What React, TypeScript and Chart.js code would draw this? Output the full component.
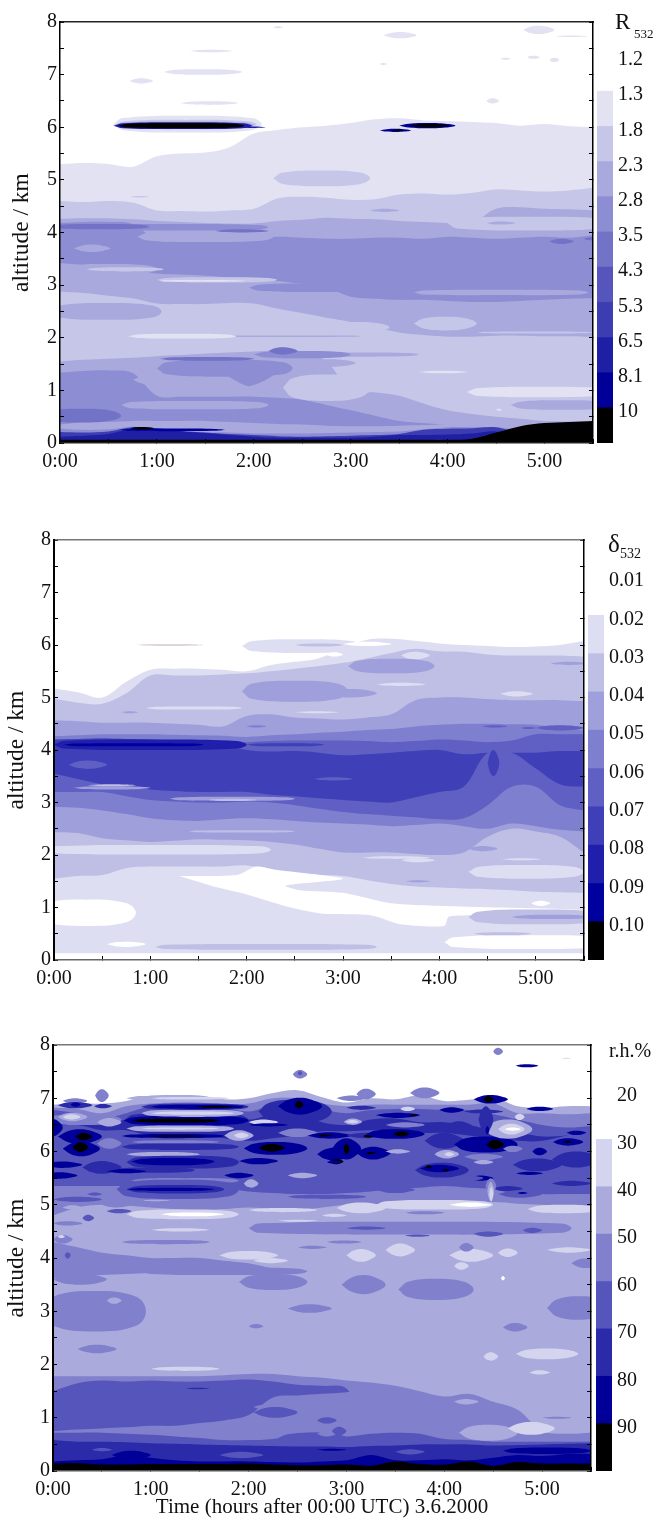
import React, { useEffect, useRef } from "react";
import { Chart, registerables } from "chart.js";
Chart.register(...registerables);

const SERIF = "'Liberation Serif','Times New Roman',serif";
const timeLabels = ["0:00", "1:00", "2:00", "3:00", "4:00", "5:00"];
const altitudeTitle = "altitude / km";
const timeTitle = "Time (hours after 00:00 UTC) 3.6.2000";

// ---------- colour ramps (index 0 = white) ----------
const rColors = ["#ffffff", "#e2e2f3", "#c6c6e9", "#a9a9dd", "#8d8dd3", "#7272c7", "#5555bb", "#3d3db2", "#1f1fa6", "#000099", "#000000"];
const dColors = ["#ffffff", "#dedef3", "#bfbfe6", "#9f9fdc", "#7f7fd0", "#5f5fc4", "#3f3fb8", "#1f1fab", "#00009f", "#000000"];
const hColors = ["#ffffff", "#d4d4ee", "#aaaadd", "#8080cc", "#5555bb", "#2b2baa", "#000099", "#000000"];

const rLegend = ["1.2", "1.3", "1.8", "2.3", "2.8", "3.5", "4.3", "5.3", "6.5", "8.1", "10"];
const dLegend = ["0.01", "0.02", "0.03", "0.04", "0.05", "0.06", "0.07", "0.08", "0.09", "0.10"];
const hLegend = ["20", "30", "40", "50", "60", "70", "80", "90"];

// ---------- panel 1: R532, contour tops (km) evenly spaced over 0..5.5 h, painted from top to bottom ----------
const r1 = [5.3, 5.32, 5.3, 5.25, 5.45, 5.5, 5.52, 5.62, 5.88, 5.95, 6.0, 6.03, 6.08, 6.15, 6.17, 6.13, 6.12, 6.1, 6.08, 6.03, 6.06, 6.02, 6.0];
const r2 = [4.6, 4.58, 4.6, 4.57, 4.42, 4.41, 4.4, 4.42, 4.45, 4.65, 4.68, 4.66, 4.62, 4.63, 4.72, 4.74, 4.72, 4.75, 4.82, 4.8, 4.78, 4.8, 4.85];
const r3 = [4.26, 4.27, 4.27, 4.25, 4.22, 4.2, 4.18, 4.17, 4.17, 4.22, 4.24, 4.28, 4.26, 4.25, 4.22, 4.2, 4.18, 4.18, 4.45, 4.48, 4.45, 4.44, 4.42];
const r4 = [4.18, 4.2, 4.2, 4.16, 3.85, 3.84, 3.85, 3.85, 3.88, 3.92, 3.9, 3.88, 3.88, 3.9, 3.9, 3.88, 3.92, 3.9, 3.88, 3.9, 3.92, 3.9, 3.95];
const r5 = [3.42, 3.38, 3.35, 3.28, 3.22, 3.2, 3.18, 3.15, 3.12, 3.08, 3.02, 2.95, 2.78, 2.74, 2.72, 2.72, 2.7, 2.68, 2.68, 2.7, 2.72, 2.74, 2.75];
const r6 = [2.88, 2.85, 2.8, 2.75, 2.65, 2.64, 2.64, 2.66, 2.65, 2.55, 2.47, 2.38, 2.3, 2.2, 2.1, 2.05, 2.02, 2.02, 2.04, 2.04, 2.03, 2.03, 2.02];
const r7 = [1.55, 1.58, 1.6, 1.62, 1.65, 1.67, 1.7, 1.72, 1.74, 1.75, 1.72, 1.55, 1.0, 0.96, 0.9, 0.75, 0.62, 0.55, 0.5, 0.46, 0.42, 0.41, 0.4];
const r8 = [1.34, 1.37, 1.38, 1.33, 0.9, 0.88, 0.88, 0.88, 0.88, 0.86, 0.82, 0.72, 0.62, 0.52, 0.42, 0.38, 0.34, 0.3, 0.27, 0.24, 0.22, 0.2, 0.2];
const r9 = [0.35, 0.4, 0.4, 0.42, 0.42, 0.42, 0.42, 0.4, 0.38, 0.36, 0.35, 0.33, 0.32, 0.32, 0.33, 0.34, 0.35, 0.32, 0.25, 0.24, 0.2, 0.2, 0.2];
const r10 = [0.27, 0.25, 0.26, 0.31, 0.27, 0.23, 0.21, 0.2, 0.18, 0.18, 0.18, 0.19, 0.2, 0.21, 0.22, 0.26, 0.3, 0.3, 0.3, 0.25, 0.25, 0.22, 0.22];
const r11 = [0.21, 0.2, 0.22, 0.3, 0.28, 0.23, 0.2, 0.17, 0.15, 0.13, 0.12, 0.13, 0.14, 0.15, 0.17, 0.25, 0.27, 0.28, 0.3, 0.18, 0.15, 0.15, 0.15];
const r12 = [0.12, 0.14, 0.17, 0.27, 0.26, 0.22, 0.19, 0.15, 0.12, 0.1, 0.1, 0.1, 0.1, 0.12, 0.15, 0.15, 0.16, 0.18, 0.22, 0.12, 0.1, 0.1, 0.1];
const r13 = [0.06, 0.06, 0.06, 0.06, 0.06, 0.06, 0.06, 0.06, 0.06, 0.06, 0.06, 0.06, 0.06, 0.06, 0.06, 0.06, 0.06, 0.08, 0.2, 0.32, 0.38, 0.4, 0.42];
const rLayers = [[1, r1], [2, r2], [3, r3], [4, r4], [3, r5], [2, r6], [3, r7], [4, r8], [3, r9], [4, r10], [7, r11], [8, r12], [10, r13]];
// level, start h, end h, centre km, half thickness km
const rBlobs = [
  [1, 0.55, 2.08, 6.06, 0.16], [2, 0.57, 2.03, 6.05, 0.09], [3, 0.57, 2.0, 6.04, 0.07], [8, 0.55, 1.98, 6.03, 0.065], [10, 0.6, 1.9, 6.03, 0.05], [8, 1.85, 2.12, 6.0, 0.016],
  [9, 3.5, 4.08, 6.03, 0.05], [10, 3.6, 4.02, 6.03, 0.035], [9, 3.3, 3.62, 5.94, 0.03], [10, 3.42, 3.55, 5.94, 0.015],
  [1, 0.72, 0.96, 6.88, 0.05], [1, 1.07, 1.88, 7.05, 0.05], [1, 1.24, 1.84, 6.46, 0.035], [1, 1.34, 1.77, 7.45, 0.025], [1, 2.2, 2.3, 7.9, 0.02],
  [1, 3.34, 3.68, 7.75, 0.06], [1, 4.78, 5.1, 7.85, 0.08], [1, 5.1, 5.45, 7.73, 0.015], [1, 4.4, 4.53, 6.5, 0.05], [1, 4.82, 4.95, 7.33, 0.03], [1, 5.05, 5.15, 7.28, 0.04], [1, 4.55, 4.65, 7.3, 0.02], [1, 3.3, 3.37, 7.2, 0.02],
  [2, 2.2, 3.2, 5.03, 0.15], [2, 0.72, 0.92, 4.68, 0.015], [3, 3.2, 3.5, 4.42, 0.03], [2, 4.0, 5.7, 4.17, 0.13], [3, 4.4, 4.7, 4.18, 0.03],
  [3, 0.0, 1.0, 3.3, 0.1], [3, 0.14, 0.52, 3.7, 0.07], [3, 0.8, 2.2, 3.92, 0.1], [4, 0.0, 2.15, 4.1, 0.06], [5, -0.1, 0.92, 4.11, 0.05], [5, 1.6, 2.15, 4.03, 0.03], [5, 5.05, 5.3, 3.83, 0.05], [5, 5.4, 5.6, 3.88, 0.03],
  [2, 0.27, 1.07, 3.3, 0.04], [2, 1.0, 2.24, 3.1, 0.05], [1, 1.0, 1.9, 3.08, 0.015],
  [4, 1.95, 3.25, 2.95, 0.08], [3, 3.65, 5.45, 2.86, 0.05], [3, -0.1, 1.05, 2.5, 0.16], [3, 1.5, 3.1, 2.03, 0.015],
  [2, 2.75, 3.4, 2.2, 0.1], [2, 3.65, 4.3, 2.27, 0.13], [2, 4.3, 5.5, 2.1, 0.02],
  [1, 0.7, 1.82, 2.03, 0.045], [3, 2.5, 3.7, 1.68, 0.04], [3, 2.5, 3.05, 1.52, 0.07], [1, 3.7, 4.2, 1.35, 0.025], [1, 4.2, 5.7, 0.97, 0.1], [1, 4.5, 4.56, 0.63, 0.02], [3, 4.65, 5.7, 0.72, 0.09],
  [4, 1.0, 2.4, 1.42, 0.16], [5, 1.03, 2.0, 1.6, 0.035], [4, 2.0, 3.0, 1.68, 0.07], [5, 2.15, 2.45, 1.75, 0.07],
  [2, 2.3, 3.2, 1.05, 0.25], [3, 0.63, 2.15, 0.72, 0.08], [3, 0.75, 1.3, 1.2, 0.1], [5, -0.2, 0.63, 0.52, 0.13], [9, 0.6, 1.7, 0.25, 0.025], [10, 0.72, 0.97, 0.28, 0.025],
];
const rShapes = [[4, [[1.7, 1.3], [2.2, 1.3], [1.95, 1.08]]]];

// ---------- panel 2: delta532 ----------
const d1 = [5.17, 5.1, 5.0, 5.3, 5.53, 5.55, 5.55, 5.53, 5.5, 5.62, 5.68, 5.75, 5.95, 6.1, 6.12, 6.08, 6.03, 6.0, 5.98, 5.96, 5.97, 6.0, 6.08];
const d2 = [4.98, 4.9, 4.88, 5.08, 5.42, 5.42, 5.42, 5.44, 5.46, 5.5, 5.55, 5.6, 5.66, 5.75, 5.85, 5.93, 5.88, 5.87, 5.82, 5.8, 5.8, 5.8, 5.78];
const d3 = [4.56, 4.55, 4.52, 4.52, 4.52, 4.5, 4.48, 4.45, 4.65, 4.68, 4.62, 4.6, 4.58, 4.62, 4.68, 4.95, 5.0, 5.0, 4.97, 4.95, 4.95, 4.95, 4.93];
const d4 = [4.26, 4.28, 4.3, 4.3, 4.3, 4.29, 4.28, 4.27, 4.25, 4.28, 4.3, 4.33, 4.35, 4.38, 4.4, 4.45, 4.48, 4.5, 4.5, 4.49, 4.48, 4.42, 4.38];
const d5 = [4.2, 4.21, 4.22, 4.2, 4.18, 4.17, 4.17, 4.16, 4.15, 4.17, 4.18, 4.18, 4.18, 4.17, 4.15, 4.17, 4.2, 4.18, 4.15, 4.18, 4.3, 4.3, 4.3];
const d6 = [4.2, 4.21, 4.22, 4.21, 4.2, 4.18, 4.15, 4.1, 4.0, 3.97, 3.98, 3.95, 3.9, 3.92, 3.95, 3.98, 4.0, 3.92, 3.95, 3.95, 3.95, 3.98, 3.98];
const d7 = [3.55, 3.45, 3.35, 3.3, 3.25, 3.22, 3.2, 3.2, 3.2, 3.15, 3.12, 3.08, 3.05, 3.02, 3.0, 3.1, 3.2, 3.3, 3.95, 3.95, 3.65, 3.35, 3.3];
const d8 = [3.2, 3.2, 3.2, 3.12, 3.05, 3.02, 3.0, 3.0, 3.02, 3.0, 2.95, 2.88, 2.82, 2.78, 2.75, 2.72, 2.68, 2.7, 2.95, 3.3, 3.3, 2.95, 2.85];
const d9 = [2.92, 2.9, 2.85, 2.78, 2.7, 2.66, 2.65, 2.68, 2.7, 2.68, 2.65, 2.62, 2.6, 2.58, 2.55, 2.57, 2.6, 2.55, 2.5, 2.6, 2.55, 2.48, 2.45];
const d10 = [2.45, 2.42, 2.32, 2.28, 2.25, 2.27, 2.3, 2.29, 2.28, 2.25, 2.2, 2.12, 2.05, 2.05, 2.05, 2.02, 2.0, 2.05, 2.35, 2.5, 2.45, 2.35, 2.05];
const d11 = [1.55, 1.6, 1.62, 1.75, 1.78, 1.78, 1.78, 1.78, 1.8, 1.72, 1.65, 1.62, 1.6, 1.52, 1.45, 1.4, 1.38, 1.36, 1.35, 1.33, 1.3, 1.29, 1.28];
const d12 = [0.13, 0.13, 0.13, 0.13, 0.13, 0.13, 0.13, 0.13, 0.13, 0.13, 0.13, 0.13, 0.13, 0.13, 0.13, 0.13, 0.13, 0.13, 0.13, 0.13, 0.13, 0.13, 0.13];
const dLayers = [[1, d1], [2, d2], [3, d3], [4, d4], [5, d5], [6, d6], [5, d7], [4, d8], [3, d9], [2, d10], [1, d11], [0, d12]];
const dBlobs = [
  [1, 1.95, 3.2, 5.98, 0.13], [1, 3.6, 3.9, 5.8, 0.07], [0, 2.82, 3.0, 5.82, 0.04], [0, 3.0, 3.5, 6.02, 0.04], [2, 2.5, 3.0, 6.0, 0.03], [3, 1.95, 3.05, 5.12, 0.2], [3, 2.8, 3.35, 5.08, 0.08], [3, 3.05, 3.95, 5.6, 0.14],
  [3, 5.15, 5.55, 5.65, 0.03], [1, 0.95, 1.95, 4.8, 0.03], [1, 4.63, 4.97, 5.07, 0.05], [1, 3.35, 3.85, 5.25, 0.03], [1, 2.5, 2.95, 4.72, 0.02], [3, 0.7, 0.87, 4.72, 0.02],
  [0.5, 0.85, 1.55, 6.0, 0.012],
  [3, 0.2, 0.6, 4.42, 0.02], [4, 2.0, 2.2, 4.45, 0.02], [5, 4.45, 4.7, 4.45, 0.02], [5, 4.85, 5.0, 4.42, 0.02], [5, 5.0, 5.5, 4.42, 0.05],
  [7, 0, 2.0, 4.1, 0.1], [8, 0.1, 1.55, 4.1, 0.03], [6, 2.0, 2.8, 4.1, 0.03], [5, 0.15, 0.55, 3.72, 0.08], [6, 4.5, 4.62, 3.75, 0.25],
  [3, 0.2, 1.0, 3.28, 0.03], [2, 0.35, 0.85, 3.33, 0.02], [3, 1.2, 2.5, 3.07, 0.04], [2, 1.6, 2.1, 3.05, 0.02], [5, 2.7, 3.1, 3.45, 0.03],
  [3, 0.0, 0.5, 2.5, 0.01], [3, -0.1, 2.0, 2.45, 0.02], [1, -0.1, 2.25, 2.1, 0.09], [2, 1.4, 2.5, 2.45, 0.02],
  [3, 4.3, 4.6, 2.12, 0.05], [1, 3.2, 3.9, 1.95, 0.025], [1, 3.6, 3.95, 1.9, 0.04], [1, 4.65, 5.05, 1.92, 0.02], [1, 4.3, 5.5, 1.68, 0.13], [3, 3.65, 3.9, 1.5, 0.02],
  [0, -0.2, 0.85, 0.9, 0.25], [0, 4.95, 5.15, 1.08, 0.05], [2, 4.3, 5.7, 0.82, 0.14], [3, 4.75, 5.6, 0.82, 0.04], [0, 4.05, 5.8, 0.34, 0.13], [0, 0.55, 0.95, 0.3, 0.05], [2, 1.05, 3.35, 0.25, 0.055], [2, 4.35, 4.95, 0.5, 0.03],
];
const dWhiteBand = [[1.3, 1.6], [1.9, 1.62], [2.1, 1.78], [2.3, 1.72], [3.0, 1.55], [2.4, 1.42], [2.55, 1.33], [3.0, 1.28], [3.5, 1.08], [4.2, 1.02], [5.5, 0.95], [5.0, 0.85], [4.1, 0.83], [4.05, 0.65], [3.6, 0.68], [3.3, 0.85], [2.8, 0.88], [2.5, 0.98], [2.0, 1.25], [1.7, 1.38]];
const dShapes = [[0, dWhiteBand]];

// ---------- panel 3: relative humidity ----------
const h1 = [6.88, 6.9, 6.9, 6.95, 7.05, 7.06, 7.05, 6.98, 7.0, 7.1, 7.15, 7.02, 6.92, 7.0, 6.98, 7.05, 6.95, 6.97, 7.02, 6.85, 6.82, 6.85, 6.85];
const h2 = [6.82, 6.8, 6.72, 6.85, 6.9, 6.92, 6.92, 6.88, 6.9, 7.0, 7.0, 6.9, 6.85, 6.88, 6.88, 6.88, 6.88, 6.88, 6.9, 6.72, 6.72, 6.7, 6.72];
const h3 = [6.78, 6.72, 6.62, 6.72, 6.85, 6.85, 6.85, 6.82, 6.75, 6.88, 6.92, 6.8, 6.72, 6.78, 6.8, 6.8, 6.78, 6.78, 6.7, 6.6, 6.5, 6.45, 6.48];
const h4 = [6.52, 6.58, 6.5, 6.6, 6.75, 6.75, 6.72, 6.7, 6.6, 6.7, 6.72, 6.55, 6.5, 6.6, 6.62, 6.55, 6.55, 6.5, 6.4, 6.35, 6.28, 6.3, 6.35];
const h5 = [6.48, 6.5, 6.4, 6.4, 6.3, 6.3, 6.28, 6.25, 6.2, 6.25, 6.3, 6.38, 6.38, 6.4, 6.4, 6.35, 6.35, 6.3, 6.25, 6.2, 6.2, 6.3, 6.38];
const h6 = [5.35, 5.35, 5.35, 5.35, 5.35, 5.35, 5.35, 5.32, 5.25, 5.22, 5.2, 5.2, 5.22, 5.25, 5.3, 5.32, 5.35, 5.32, 5.3, 5.25, 5.2, 5.2, 5.2];
const h7 = [4.8, 4.95, 5.0, 4.98, 4.95, 4.92, 4.9, 4.92, 4.95, 4.92, 4.9, 4.95, 5.0, 5.0, 5.0, 5.0, 5.0, 5.02, 5.05, 5.02, 5.0, 4.98, 4.95];
const h8 = [4.3, 4.2, 4.1, 4.05, 4.0, 4.0, 4.0, 3.95, 3.9, 3.8, 3.72, 3.7, 3.7, 3.7, 3.7, 3.7, 3.7, 3.7, 3.7, 3.7, 3.7, 3.7, 3.7];
const h9 = [3.62, 3.65, 3.68, 3.7, 3.72, 3.75, 3.75, 3.75, 3.75, 3.8, 3.85, 3.85, 3.85, 3.85, 3.85, 3.85, 3.9, 3.9, 3.9, 3.9, 3.9, 3.85, 3.85];
const h10 = [1.78, 1.78, 1.78, 1.78, 1.78, 1.78, 1.78, 1.8, 1.82, 1.82, 1.78, 1.75, 1.7, 1.66, 1.6, 1.5, 1.4, 1.45, 1.3, 1.15, 0.75, 0.7, 0.72];
const h11 = [1.5, 1.65, 1.7, 1.68, 1.7, 1.68, 1.68, 1.7, 1.72, 1.68, 1.62, 1.6, 1.55, 0.75, 0.7, 0.7, 0.6, 0.58, 0.55, 0.55, 0.55, 0.55, 0.55];
const h12 = [0.75, 0.78, 0.8, 0.82, 0.85, 0.85, 0.9, 0.95, 1.05, 1.38, 1.42, 1.45, 1.48, 1.55, 1.55, 1.45, 1.35, 1.4, 1.28, 1.1, 0.72, 0.68, 0.7];
const h13 = [0.72, 0.72, 0.72, 0.7, 0.68, 0.65, 0.62, 0.58, 0.58, 0.6, 0.7, 0.72, 0.65, 0.7, 0.72, 0.7, 0.6, 0.58, 0.55, 0.55, 0.55, 0.55, 0.55];
const h14 = [0.58, 0.55, 0.55, 0.54, 0.52, 0.51, 0.5, 0.49, 0.48, 0.47, 0.46, 0.46, 0.45, 0.47, 0.48, 0.5, 0.5, 0.5, 0.48, 0.49, 0.5, 0.51, 0.52];
const h15 = [0.18, 0.2, 0.22, 0.3, 0.25, 0.2, 0.18, 0.18, 0.18, 0.17, 0.16, 0.18, 0.2, 0.3, 0.2, 0.2, 0.22, 0.2, 0.25, 0.3, 0.28, 0.32, 0.32];
const h16 = [0.14, 0.15, 0.12, 0.12, 0.13, 0.13, 0.13, 0.13, 0.14, 0.12, 0.11, 0.11, 0.12, 0.1, 0.18, 0.13, 0.12, 0.18, 0.1, 0.17, 0.14, 0.14, 0.14];
const hLayers = [[2, h1], [3, h2], [4, h3], [5, h4], [4, h5], [3, h6], [2, h7], [3, h8], [2, h9], [3, h10], [4, h11], [3, h12], [4, h13], [5, h14], [6, h15], [7, h16]];
const hBlobs = [
  // above the main layer
  [3, 2.45, 2.6, 7.45, 0.08], [4, 2.5, 2.55, 7.47, 0.04], [3, 4.5, 4.6, 7.88, 0.07], [6, 4.73, 4.96, 7.61, 0.03], [1, 5.2, 5.3, 7.75, 0.01], [3, 0.43, 0.57, 7.05, 0.12], [3, 0.1, 0.35, 6.95, 0.05], [2, 0.75, 1.1, 7.0, 0.04], [1, 1.0, 1.8, 7.0, 0.025], [3, 3.1, 3.3, 7.08, 0.1], [3, 3.65, 3.95, 7.1, 0.1], [3, 2.9, 3.2, 7.0, 0.05],
  // broad mid-blue body
  [3, -0.1, 0.7, 6.6, 0.1], [2, 0.05, 0.35, 6.65, 0.08], [1, 0.1, 0.28, 6.65, 0.05], [2, 0.45, 0.7, 6.55, 0.08], [5, 0.05, 0.4, 6.87, 0.06], [6, 0.18, 0.28, 6.88, 0.04], [5, 0.42, 0.6, 6.85, 0.04],
  [6, -0.1, 0.1, 6.45, 0.16], [6, 0.05, 0.5, 6.28, 0.14], [7, 0.23, 0.4, 6.28, 0.07], [6, 0.1, 0.48, 6.05, 0.14], [7, 0.2, 0.36, 6.08, 0.09], [3, 0.45, 0.7, 6.15, 0.1], [6, -0.1, 0.3, 5.75, 0.06], [6, -0.1, 0.25, 5.55, 0.06], [5, 0.3, 0.7, 5.7, 0.12], [3, 0.1, 0.35, 5.25, 0.05], [4, 0, 0.5, 5.1, 0.05],
  // striped block
  [5, 0.72, 2.0, 6.58, 0.15], [6, 0.72, 2.0, 6.58, 0.09], [7, 0.8, 1.7, 6.58, 0.04], [2, 0.9, 1.95, 6.72, 0.07], [1, 1.0, 1.85, 6.72, 0.03], [5, 0.9, 2.0, 6.84, 0.06], [6, 1.0, 1.95, 6.84, 0.04], [7, 1.45, 1.85, 6.84, 0.02], [2, 0.75, 1.85, 6.43, 0.06], [1, 0.9, 1.7, 6.43, 0.02],
  [6, 0.7, 1.75, 6.29, 0.04], [7, 0.95, 1.55, 6.29, 0.015], [3, 0.8, 1.7, 6.18, 0.03], [5, 0.7, 1.9, 6.09, 0.06], [2, 0.75, 1.5, 5.95, 0.04], [5, 0.75, 1.9, 5.8, 0.12], [6, 0.8, 1.65, 5.81, 0.07], [5, 0.6, 1.45, 5.65, 0.05], [6, 0.55, 0.95, 5.63, 0.04], [6, 1.75, 2.05, 5.55, 0.05],
  [3, 0.8, 1.9, 5.45, 0.05], [4, 0.65, 1.9, 5.29, 0.18], [5, 0.75, 1.75, 5.29, 0.08], [6, 0.75, 1.65, 5.29, 0.03], [3, 0.5, 0.8, 5.0, 0.05], [4, 0.55, 0.8, 4.88, 0.04],
  [1, 0.75, 1.9, 4.82, 0.09], [0, 1.1, 1.75, 4.82, 0.035], [1, 1.0, 1.6, 4.53, 0.03], [3, 0.0, 0.3, 4.65, 0.04], [4, 0.3, 0.42, 4.75, 0.06], [3, 0.7, 1.6, 4.3, 0.04], [2, 0.4, 0.8, 4.4, 0.08],
  [2, 0.1, 0.3, 4.95, 0.04], [4, 0.35, 0.5, 5.2, 0.03], [3, 0.9, 1.2, 5.05, 0.03], [2, 0.9, 1.2, 5.08, 0.015], [3, 0.0, 0.2, 4.35, 0.08], [1, 0.05, 0.12, 4.4, 0.03], [4, 0.12, 0.18, 4.05, 0.06], [3, 2.2, 2.7, 5.05, 0.04], [3, 3.6, 4.0, 4.85, 0.03], [3, 2.05, 2.25, 4.6, 0.05],
  // 2-3 h dark cells
  [6, 1.95, 2.6, 6.06, 0.12], [7, 2.1, 2.37, 6.07, 0.07], [2, 1.75, 2.05, 6.3, 0.1], [1, 1.85, 2.0, 6.3, 0.05], [5, 2.1, 2.85, 6.75, 0.22], [6, 2.3, 2.75, 6.85, 0.16], [7, 2.47, 2.56, 6.88, 0.07], [1, 2.0, 2.3, 6.55, 0.05], [6, 2.0, 2.4, 6.5, 0.03], [3, 2.3, 2.7, 6.35, 0.08],
  [6, 2.6, 3.05, 6.3, 0.06], [7, 2.7, 2.85, 6.3, 0.02], [6, 2.7, 3.05, 5.95, 0.12], [7, 2.82, 2.97, 5.81, 0.05], [6, 1.9, 2.3, 5.82, 0.06], [2, 1.95, 2.1, 5.4, 0.08], [2, 2.4, 2.7, 5.55, 0.05],
  [6, 2.85, 3.15, 6.05, 0.2], [7, 2.97, 3.03, 6.05, 0.1], [6, 3.1, 3.45, 5.97, 0.12], [7, 3.2, 3.3, 5.97, 0.02], [5, 3.0, 3.4, 6.3, 0.05], [7, 3.17, 3.28, 6.29, 0.03], [2, 2.97, 3.16, 6.56, 0.06], [1, 3.0, 3.12, 6.56, 0.03], [6, 3.2, 3.8, 6.33, 0.09], [7, 3.48, 3.64, 6.33, 0.05], [6, 3.3, 3.75, 6.68, 0.05], [7, 3.65, 3.72, 6.68, 0.02], [1, 3.55, 3.7, 6.8, 0.04], [5, 3.0, 3.3, 6.82, 0.04],
  [5, 3.8, 4.2, 6.2, 0.15], [2, 3.9, 4.15, 5.95, 0.08], [1, 4.0, 4.1, 5.95, 0.04], [2, 3.4, 3.65, 6.0, 0.04], [6, 3.95, 4.2, 6.78, 0.05], [5, 4.0, 4.3, 6.45, 0.12], [3, 3.4, 3.8, 6.5, 0.05],
  [5, 3.7, 4.25, 5.65, 0.14], [6, 3.75, 4.15, 5.68, 0.07], [7, 3.81, 3.87, 5.71, 0.03], [7, 3.98, 4.05, 5.65, 0.02],
  // 4-5.5 h dark cells
  [6, 4.3, 4.65, 6.98, 0.08], [7, 4.4, 4.5, 6.98, 0.06], [6, 4.1, 4.75, 6.13, 0.15], [7, 4.43, 4.61, 6.13, 0.09], [2, 4.4, 4.9, 6.42, 0.18], [1, 4.55, 4.82, 6.42, 0.1], [0, 4.62, 4.78, 6.42, 0.03], [5, 4.35, 4.5, 6.6, 0.25], [6, 4.42, 4.46, 6.4, 0.08], [1, 4.72, 4.82, 6.65, 0.06],
  [6, 4.84, 5.11, 6.8, 0.04], [5, 4.2, 4.6, 6.75, 0.04], [6, 5.11, 5.42, 6.18, 0.07], [7, 5.22, 5.3, 6.18, 0.02], [6, 5.25, 5.45, 6.35, 0.04], [6, 4.9, 5.05, 6.0, 0.07], [6, 4.73, 5.01, 5.59, 0.03], [6, 4.25, 4.5, 5.5, 0.05], [5, 4.7, 5.2, 5.75, 0.12], [5, 5.1, 5.6, 5.85, 0.15], [3, 4.6, 4.8, 6.05, 0.06],
  [3, 4.2, 4.6, 5.9, 0.06], [2, 4.3, 4.5, 5.8, 0.04], [5, 4.5, 4.8, 5.3, 0.05], [5, 5.1, 5.5, 5.4, 0.05], [4, 4.1, 4.4, 5.5, 0.05], [3, 4.42, 4.53, 5.35, 0.15], [2, 4.44, 4.51, 5.25, 0.18], [1, 4.46, 4.5, 5.2, 0.14], [4, 4.55, 5.0, 5.2, 0.07], [6, 4.75, 4.85, 5.22, 0.02],
  [4, 2.4, 3.2, 5.15, 0.04], [4, 3.3, 3.7, 5.28, 0.06], [6, 2.8, 2.95, 5.8, 0.03],
  // bright band near 5 km
  [1, 3.3, 4.5, 5.0, 0.09], [0, 4.05, 4.48, 5.0, 0.04], [1, 2.9, 3.4, 4.94, 0.1], [1, 4.85, 5.6, 4.92, 0.08], [1, 2.0, 2.7, 4.9, 0.04], [1, 2.3, 2.7, 4.7, 0.02], [1, 2.75, 3.0, 4.8, 0.03],
  [3, 2.0, 5.3, 4.56, 0.12], [4, 4.3, 4.6, 4.45, 0.05], [4, 3.0, 3.4, 4.56, 0.03], [4, 4.8, 5.0, 4.52, 0.05], [4, 3.6, 3.85, 4.42, 0.02],
  [1, 1.7, 2.3, 4.05, 0.08], [1, 2.05, 2.4, 3.95, 0.05], [1, 3.0, 3.3, 4.05, 0.12], [1, 3.4, 3.7, 4.15, 0.12], [1, 4.05, 4.5, 4.05, 0.12], [1, 4.1, 4.25, 3.85, 0.07], [3, 4.15, 4.3, 4.2, 0.08], [1, 5.05, 5.5, 4.15, 0.05], [1, 4.55, 4.75, 4.1, 0.08], [0, 4.58, 4.62, 3.62, 0.04], [3, 2.8, 3.15, 4.3, 0.03], [3, 2.5, 2.8, 4.2, 0.03],
  // lower humid patches
  [3, 0, 0.55, 3.6, 0.1], [3, -0.1, 0.95, 3.0, 0.38], [2, 0.55, 0.7, 3.2, 0.06], [3, 0.25, 0.65, 2.29, 0.08], [3, 0.9, 2.6, 3.75, 0.07], [3, 1.9, 2.6, 3.55, 0.15], [3, 2.95, 3.4, 3.5, 0.18], [3, 3.53, 4.3, 3.41, 0.2], [3, 2.4, 2.85, 3.05, 0.08], [3, 5.05, 5.7, 3.06, 0.22], [3, 4.6, 4.85, 2.7, 0.08], [3, 5.3, 5.6, 3.9, 0.09], [3, 2.0, 2.15, 2.72, 0.04],
  [1, 1.0, 1.7, 1.92, 0.04], [1, 4.73, 5.37, 2.2, 0.1], [1, 4.4, 4.55, 2.15, 0.08], [1, 4.87, 5.08, 1.85, 0.04],
  [5, 1.35, 1.6, 1.55, 0.015], [3, 2.05, 2.3, 1.2, 0.05], [4, 2.05, 2.5, 1.1, 0.1], [4, 2.7, 2.9, 0.95, 0.06], [4, 2.3, 3.0, 0.62, 0.1], [3, 2.7, 2.9, 0.7, 0.05], [4, 2.85, 3.0, 0.75, 0.08],
  [2, 4.15, 4.75, 0.72, 0.15], [1, 4.65, 5.13, 0.8, 0.12], [2, 4.1, 4.35, 1.3, 0.05], [3, 5.0, 5.3, 1.0, 0.02],
  [4, 1.7, 2.15, 0.3, 0.06], [4, 3.5, 3.8, 0.36, 0.05], [6, 0.6, 1.0, 0.3, 0.08], [4, 0.4, 0.6, 0.4, 0.03], [6, 4.6, 5.5, 0.38, 0.06], [6, 2.7, 3.0, 0.4, 0.02],
];
const hShapes = [];

// ---------- drawing through Chart.js ----------
function curve(values, color) {
  const n = values.length;
  return { type: "line", data: values.map((y, i) => ({ x: (i * 5.5) / (n - 1), y })), backgroundColor: color, borderWidth: 0, pointRadius: 0, tension: 0.35, fill: { value: 0 } };
}
function closedShape(points, color, tension) {
  const ring = [...points, points[0]];
  return { type: "line", data: ring.map(([x, y]) => ({ x, y })), backgroundColor: color, borderWidth: 0, pointRadius: 0, tension, fill: "shape" };
}
function lensPoints(t0, t1, alt, h) {
  const w = t1 - t0;
  const inset = Math.min(0.22 * w, 0.1);
  return [[t0, alt], [t0 + inset, alt + 0.72 * h], [t0 + 0.5 * w, alt + h], [t1 - inset, alt + 0.72 * h], [t1, alt], [t1 - inset, alt - 0.72 * h], [t0 + 0.5 * w, alt - h], [t0 + inset, alt - 0.72 * h]];
}
function colorOf(colors, level) {
  return level === 0.5 ? "#d8c8c8" : colors[level];
}
function buildDatasets(colors, layers, blobs, shapes) {
  const list = [];
  layers.forEach(([lv, vals]) => list.push(curve(vals, colors[lv])));
  shapes.forEach(([lv, pts]) => list.push(closedShape(pts, colors[lv], 0.25)));
  blobs.forEach(([lv, t0, t1, alt, h]) => list.push(closedShape(lensPoints(t0, t1, alt, h), colorOf(colors, lv), 0.4)));
  // Chart.js paints the first dataset last
  return list.reverse();
}
// Place the canvas so that the chart area lands exactly on the wanted box.
function fitArea(chart, canvas, box) {
  const a = chart.chartArea;
  const W = canvas.width + (box.r - box.l) - (a.right - a.left);
  const H = canvas.height + (box.b - box.t) - (a.bottom - a.top);
  canvas.style.left = box.l - a.left + "px";
  canvas.style.top = box.t - a.top + "px";
  chart.resize(W, H);
}

function Panel({ box, datasets, showTimeTitle, edge }) {
  const ref = useRef(null);
  const botH = showTimeTitle ? 49 : 30;
  useEffect(() => {
    const font = { family: SERIF, size: 20 };
    const chart = new Chart(ref.current, {
      type: "line",
      data: { datasets },
      options: {
        animation: false,
        responsive: false,
        maintainAspectRatio: false,
        layout: { autoPadding: false, padding: 0 },
        plugins: { legend: { display: false }, tooltip: { enabled: false } },
        scales: {
          x: {
            type: "linear", position: "bottom", min: 0, max: 5.5,
            afterFit: (s) => { s.height = botH; },
            border: { color: edge.bottom, width: edge.bw, z: 3 },
            grid: { drawOnChartArea: false, tickLength: -4, color: "#000", z: 2 },
            ticks: { stepSize: 0.5, autoSkip: false, maxRotation: 0, padding: 11, color: "#111", font, callback: (v) => (Number.isInteger(v) ? timeLabels[v] ?? "" : "") },
            title: showTimeTitle ? { display: true, text: timeTitle, color: "#111", font: { family: SERIF, size: 21 }, padding: { top: 0, bottom: 0 } } : { display: false },
          },
          xTop: {
            axis: "x", type: "linear", position: "top", min: 0, max: 5.5,
            afterFit: (s) => { s.height = 14; },
            border: { color: edge.top, width: 1.5, z: 3 },
            grid: { drawOnChartArea: false, drawTicks: false, z: 2 },
            ticks: { display: false },
          },
          y: {
            type: "linear", position: "left", min: 0, max: 8,
            afterFit: (s) => { s.width = box.l; },
            border: { color: "#000", width: edge.lw, z: 3 },
            grid: { drawOnChartArea: false, tickLength: -4, color: "#000", z: 2 },
            ticks: { stepSize: 0.5, autoSkip: false, padding: 7, color: "#111", font, callback: (v) => (Number.isInteger(v) ? String(v) : "") },
            title: { display: true, text: altitudeTitle, color: "#111", font: { family: SERIF, size: 23.5 }, padding: { top: edge.titlePad, bottom: 0 } },
          },
          yRight: {
            axis: "y", type: "linear", position: "right", min: 0, max: 8,
            afterFit: (s) => { s.width = 4; },
            border: { color: "#000", width: 1.5, z: 3 },
            grid: { drawOnChartArea: false, tickLength: -4, color: "#000", z: 2 },
            ticks: { display: false, stepSize: 0.5, autoSkip: false },
          },
        },
      },
    });
    fitArea(chart, ref.current, box);
    return () => chart.destroy();
  }, []);
  const w = box.r + 4;
  const h = box.b - box.t + 14 + botH;
  return <canvas ref={ref} width={w} height={h} style={{ position: "absolute", left: 0, top: box.t - 14, width: w, height: h, display: "block" }} />;
}

function ColorBar({ box, colors, labels }) {
  const ref = useRef(null);
  const n = labels.length;
  useEffect(() => {
    const datasets = labels.map((_, i) => {
      const lv = n - 1 - i;
      return { label: labels[lv], data: [1], backgroundColor: colors[lv], stack: "bar", barPercentage: 1, categoryPercentage: 1, borderWidth: 0 };
    });
    const chart = new Chart(ref.current, {
      type: "bar",
      data: { labels: ["level"], datasets },
      options: {
        animation: false,
        responsive: false,
        maintainAspectRatio: false,
        layout: { autoPadding: false, padding: { top: 12, bottom: 4 } },
        plugins: { legend: { display: false }, tooltip: { enabled: false } },
        scales: {
          x: { display: false, stacked: true },
          y: {
            position: "right", stacked: true, min: 0, max: n,
            afterFit: (s) => { s.width = 46; },
            border: { display: false },
            grid: { display: false, drawTicks: false },
            ticks: { stepSize: 1, autoSkip: false, padding: 5, labelOffset: 4, color: "#111", font: { family: SERIF, size: 20 }, callback: (v) => (v >= 1 ? labels[n - v] : "") },
          },
        },
      },
    });
    fitArea(chart, ref.current, box);
    return () => chart.destroy();
  }, []);
  const w = box.r - box.l + 46;
  const h = box.b - box.t + 16;
  return <canvas ref={ref} width={w} height={h} style={{ position: "absolute", left: box.l, top: box.t - 12, width: w, height: h, display: "block" }} />;
}

const textStyle = { position: "absolute", fontFamily: SERIF, color: "#111", lineHeight: 1, whiteSpace: "nowrap" };

export default function App() {
  return (
    <div style={{ position: "absolute", left: 0, top: 0, width: 656, height: 1519, background: "#fff", overflow: "hidden" }}>
      <Panel box={{ l: 60, r: 593, t: 22, b: 443 }} datasets={buildDatasets(rColors, rLayers, rBlobs, rShapes)} edge={{ top: "#222", bottom: "#222", bw: 1.5, lw: 1.5, titlePad: 8 }} />
      <Panel box={{ l: 54, r: 584, t: 540, b: 960 }} datasets={buildDatasets(dColors, dLayers, dBlobs, dShapes)} edge={{ top: "#777", bottom: "#666", bw: 1.5, lw: 2, titlePad: 3 }} />
      <Panel box={{ l: 53, r: 591, t: 1045, b: 1471 }} datasets={buildDatasets(hColors, hLayers, hBlobs, hShapes)} showTimeTitle edge={{ top: "#777", bottom: "#555", bw: 1.5, lw: 2, titlePad: 3 }} />
      <ColorBar box={{ l: 597, r: 613, t: 56, b: 443 }} colors={rColors} labels={rLegend} />
      <ColorBar box={{ l: 588, r: 604, t: 577, b: 960 }} colors={dColors} labels={dLegend} />
      <ColorBar box={{ l: 596, r: 612, t: 1092, b: 1471 }} colors={hColors} labels={hLegend} />
      <div style={{ ...textStyle, left: 615, top: 10, fontSize: 23 }}>R</div>
      <div style={{ ...textStyle, left: 634, top: 27, fontSize: 13 }}>532</div>
      <div style={{ ...textStyle, left: 608, top: 531, fontSize: 25 }}>δ</div>
      <div style={{ ...textStyle, left: 620, top: 547, fontSize: 14 }}>532</div>
      <div style={{ ...textStyle, left: 609, top: 1040, fontSize: 20 }}>r.h.%</div>
    </div>
  );
}
